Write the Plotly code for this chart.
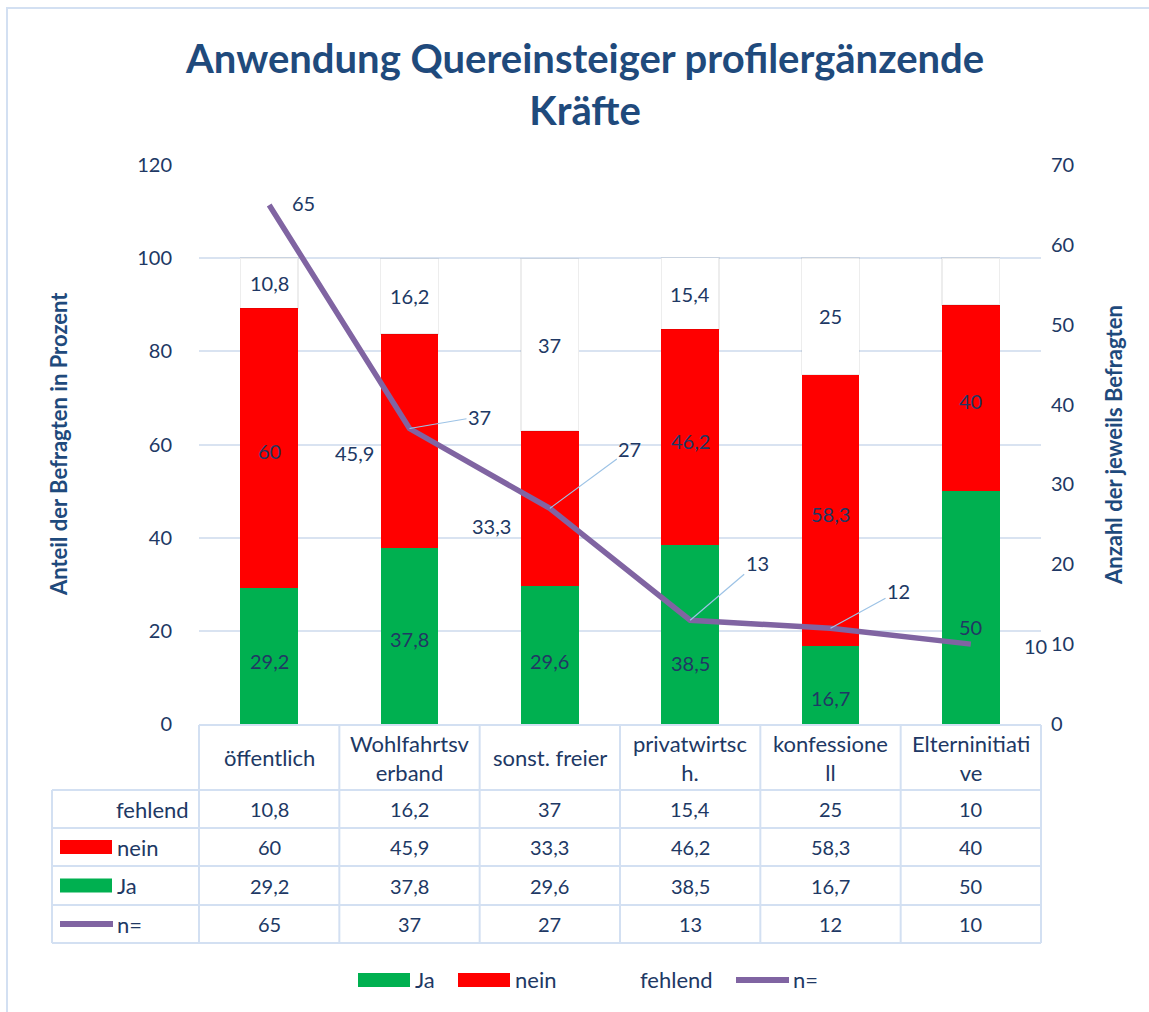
import plotly.graph_objects as go

# ---------------- data ----------------
categories = ["öffentlich", "Wohlfahrtsverband", "sonst. freier", "privatwirtsch.", "konfessionell", "Elterninitiative"]
category_labels = ["öffentlich", "Wohlfahrtsv<br>erband", "sonst. freier", "privatwirtsc<br>h.", "konfessione<br>ll", "Elterninitiati<br>ve"]
ja = [29.2, 37.8, 29.6, 38.5, 16.7, 50]
nein = [60, 45.9, 33.3, 46.2, 58.3, 40]
fehlend = [10.8, 16.2, 37, 15.4, 25, 10]
n_befragte = [65, 37, 27, 13, 12, 10]
left_ticks = [0, 20, 40, 60, 80, 100, 120]
right_ticks = [0, 10, 20, 30, 40, 50, 60, 70]

# ---------------- styling ----------------
W, H = 1149, 1012
PX0, PX1, PY0, PY1 = 199, 1041, 165, 724   # plot area in pixels
GREEN, RED, PURPLE = "#00b050", "#ff0000", "#8064a2"
TXT = "#203864"
TITLE_C = "#1f4a7c"
GRID = "#d9e3f1"
BORDER = "#d3e0f2"
FONT = "Lato"


def fx(p):
    return (p - PX0) / (PX1 - PX0)


def fy(p):
    return (PY1 - p) / (PY1 - PY0)


def de(v):
    return f"{v:g}".replace(".", ",")


xs = list(range(len(categories)))

fig = go.Figure()
fig.add_trace(go.Bar(x=xs, y=ja, name="Ja", marker=dict(color=GREEN, line=dict(width=0)), width=0.41))
fig.add_trace(go.Bar(x=xs, y=nein, name="nein", marker=dict(color=RED, line=dict(width=0)), width=0.41))
fig.add_trace(go.Bar(x=xs, y=fehlend, name="fehlend",
                     marker=dict(color="white", line=dict(color="rgba(0,0,0,0.07)", width=1.5)), width=0.41))
fig.add_trace(go.Scatter(x=xs, y=n_befragte, name="n=", yaxis="y2", mode="lines",
                         line=dict(color=PURPLE, width=5.5)))

ann = []
num_font = dict(family=FONT, size=20, color=TXT)
txt_font = dict(family=FONT, size=22, color=TXT)

# bar labels (centered in segments, with small manual displacements like the original)
ja_shift = [(0, -5), (0, -3), (0, -6), (0, -29), (0, -13), (0, -19)]
nein_shift = [(0, -3), (-55, -12), (-58, -17), (0, -4), (0, -4), (0, -3)]
show_fehlend = [True, True, True, True, True, False]
for i in xs:
    ann.append(dict(x=i, y=ja[i] / 2, xref="x", yref="y", text=de(ja[i]), showarrow=False,
                    font=num_font, xshift=ja_shift[i][0], yshift=ja_shift[i][1]))
    ann.append(dict(x=i, y=ja[i] + nein[i] / 2, xref="x", yref="y", text=de(nein[i]), showarrow=False,
                    font=num_font, xshift=nein_shift[i][0], yshift=nein_shift[i][1]))
    if show_fehlend[i]:
        ann.append(dict(x=i, y=ja[i] + nein[i] + fehlend[i] / 2, xref="x", yref="y", text=de(fehlend[i]),
                        showarrow=False, font=num_font))

# line labels with leader lines
line_lab = [(34, -2, False), (70, -12, True), (80, -59, True), (67, -57, True), (68, -37, True), (65, 2, False)]
for i in xs:
    dx, dy, arrow = line_lab[i]
    if arrow:
        ann.append(dict(x=i, y=n_befragte[i], xref="x", yref="y2", text=de(n_befragte[i]), showarrow=True,
                        ax=dx, ay=dy, arrowhead=0, arrowwidth=1.2, arrowcolor="#9dc3e6", standoff=0,
                        font=num_font))
    else:
        ann.append(dict(x=i, y=n_befragte[i], xref="x", yref="y2", text=de(n_befragte[i]), showarrow=False,
                        xshift=dx, yshift=-dy, font=num_font))

# title
ann.append(dict(x=fx(584), y=fy(84), xref="paper", yref="paper", showarrow=False, yanchor="middle",
                text="<b>Anwendung Quereinsteiger profilergänzende<br>Kräfte</b>",
                font=dict(family=FONT, size=40, color=TITLE_C), align="center"))
# axis titles
ann.append(dict(x=fx(58), y=fy(444), xref="paper", yref="paper", showarrow=False, textangle=-90,
                xanchor="center", yanchor="middle",
                text="<b>Anteil der Befragten in Prozent</b>", font=dict(family=FONT, size=22, color=TITLE_C)))
ann.append(dict(x=fx(1113), y=fy(445), xref="paper", yref="paper", showarrow=False, textangle=-90,
                xanchor="center", yanchor="middle",
                text="<b>Anzahl der jeweils Befragten</b>", font=dict(family=FONT, size=22, color=TITLE_C)))

# ---------------- data table ----------------
row_edges = [725, 790, 828, 866, 905, 943]
row_centers = [(row_edges[k] + row_edges[k + 1]) / 2 for k in range(5)]
table_rows = [fehlend, nein, ja, n_befragte]
for i in xs:
    ann.append(dict(x=i, y=fy(row_centers[0]), xref="x", yref="paper", text=category_labels[i],
                    showarrow=False, font=txt_font, align="center", yanchor="middle"))
    for r, row in enumerate(table_rows):
        ann.append(dict(x=i, y=fy(row_centers[r + 1]), xref="x", yref="paper", text=de(row[i]),
                        showarrow=False, font=num_font, yanchor="middle"))

ann.append(dict(x=fx(191), y=fy(row_centers[1]), xref="paper", yref="paper", text="fehlend", xanchor="right",
                yanchor="middle", showarrow=False, font=txt_font))
for r, lbl in [(2, "nein"), (3, "Ja"), (4, "n=")]:
    ann.append(dict(x=fx(115), y=fy(row_centers[r]), xref="paper", yref="paper", text=lbl, xanchor="left",
                    yanchor="middle", showarrow=False, font=txt_font))

shapes = []
# outer chart border
shapes.append(dict(type="rect", xref="paper", yref="paper", x0=fx(7), x1=fx(1170), y0=fy(8), y1=fy(1030),
                   line=dict(color=BORDER, width=2), fillcolor="rgba(0,0,0,0)", layer="below"))
# horizontal table lines
for k, yy in enumerate(row_edges):
    xl = PX0 if k == 0 else 52
    shapes.append(dict(type="line", xref="paper", yref="paper", x0=fx(xl), x1=fx(PX1), y0=fy(yy), y1=fy(yy),
                       line=dict(color=BORDER, width=2)))
# vertical table lines
for c in range(len(categories) + 1):
    xx = c / len(categories)
    shapes.append(dict(type="line", xref="paper", yref="paper", x0=xx, x1=xx, y0=fy(row_edges[0]),
                       y1=fy(row_edges[-1]), line=dict(color=BORDER, width=2)))
shapes.append(dict(type="line", xref="paper", yref="paper", x0=fx(52), x1=fx(52), y0=fy(row_edges[1]),
                   y1=fy(row_edges[-1]), line=dict(color=BORDER, width=2)))
# keys inside the table
for r, col in [(2, RED), (3, GREEN)]:
    yc = row_centers[r]
    shapes.append(dict(type="rect", xref="paper", yref="paper", x0=fx(60), x1=fx(112), y0=fy(yc - 7),
                       y1=fy(yc + 7), fillcolor=col, line=dict(width=0)))
shapes.append(dict(type="line", xref="paper", yref="paper", x0=fx(60), x1=fx(113), y0=fy(row_centers[4]),
                   y1=fy(row_centers[4]), line=dict(color=PURPLE, width=6)))

# bottom legend
LY = 980
shapes.append(dict(type="rect", xref="paper", yref="paper", x0=fx(358), x1=fx(410), y0=fy(LY - 7),
                   y1=fy(LY + 7), fillcolor=GREEN, line=dict(width=0)))
shapes.append(dict(type="rect", xref="paper", yref="paper", x0=fx(458), x1=fx(510), y0=fy(LY - 7),
                   y1=fy(LY + 7), fillcolor=RED, line=dict(width=0)))
shapes.append(dict(type="line", xref="paper", yref="paper", x0=fx(736), x1=fx(789), y0=fy(LY), y1=fy(LY),
                   line=dict(color=PURPLE, width=6)))
for xl, lbl in [(413, "Ja"), (513, "nein"), (638, "fehlend"), (791, "n=")]:
    ann.append(dict(x=fx(xl), y=fy(LY), xref="paper", yref="paper", text=lbl, xanchor="left",
                    yanchor="middle", showarrow=False, font=txt_font))

fig.update_layout(
    width=W, height=H,
    margin=dict(l=PX0, r=W - PX1, t=PY0, b=H - PY1, pad=0),
    paper_bgcolor="white", plot_bgcolor="white",
    barmode="stack", showlegend=False, separators=",.",
    font=dict(family=FONT, size=20, color=TXT),
    xaxis=dict(range=[-0.5, len(categories) - 0.5], showticklabels=False, showgrid=False, zeroline=False,
               showline=False, ticks=""),
    yaxis=dict(range=[0, 120], tickvals=left_ticks, showgrid=True, gridcolor=GRID, gridwidth=1.5,
               zeroline=False, showline=False, ticks="outside", ticklen=22, tickcolor="rgba(0,0,0,0)",
               tickfont=dict(family=FONT, size=20, color=TXT)),
    yaxis2=dict(range=[0, 70], tickvals=right_ticks, overlaying="y", side="right", showgrid=False,
                zeroline=False, showline=False, ticks="outside", ticklen=5, tickcolor="rgba(0,0,0,0)",
                tickfont=dict(family=FONT, size=20, color=TXT)),
    annotations=ann, shapes=shapes,
)

fig.write_html("out.html", config={"displayModeBar": False},
               post_script="document.body.style.margin='0px';document.body.style.padding='0px';")
